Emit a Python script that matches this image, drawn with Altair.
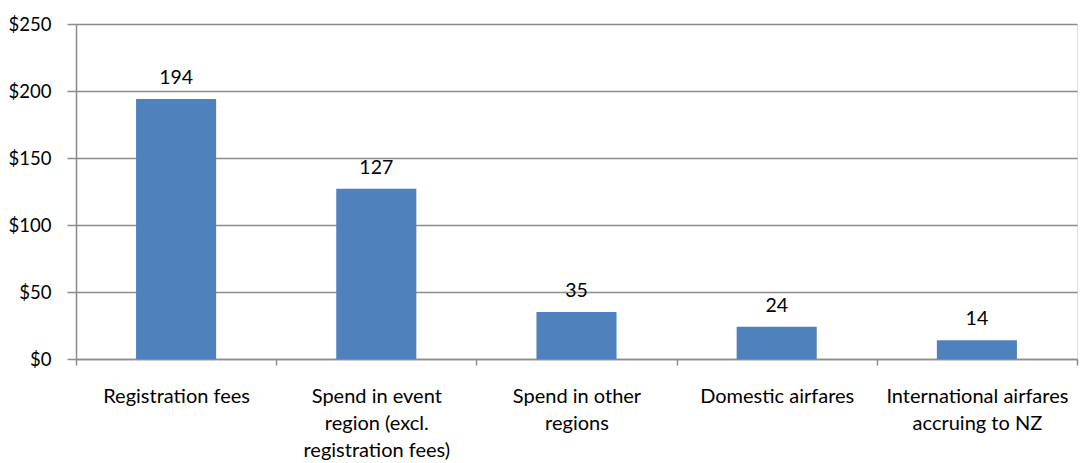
import altair as alt
import pandas as pd

# Average spend per visitor, by spend category
label_lines = [
    ["Registration fees"],
    ["Spend in event", "region (excl.", "registration fees)"],
    ["Spend in other", "regions"],
    ["Domestic airfares"],
    ["International airfares", "accruing to NZ"],
]
values = [194, 127, 35, 24, 14]
y_ticks = [0, 50, 100, 150, 200, 250]

categories = ["\n".join(lines) for lines in label_lines]
df = pd.DataFrame({"category": categories, "value": values})

FONT = "Lato"
GREY = "#8c8c8c"

x = alt.X(
    "category:N",
    sort=categories,
    title=None,
    scale=alt.Scale(paddingInner=0, paddingOuter=0),
    axis=alt.Axis(
        labelAngle=0,
        labelExpr="split(datum.label, '\\n')",
        labelFont=FONT,
        labelFontSize=20,
        labelColor="#000000",
        labelLineHeight=27,
        labelBaseline="top",
        labelPadding=21,
        labelLimit=300,
        tickBand="extent",
        tickSize=6,
        tickColor=GREY,
        tickWidth=1.5,
        domainColor=GREY,
        domainWidth=1.5,
        grid=False,
    ),
)

y = alt.Y(
    "value:Q",
    title=None,
    scale=alt.Scale(domain=[0, 250], nice=False),
    axis=alt.Axis(
        values=y_ticks,
        labelExpr="'$' + datum.value",
        labelFont=FONT,
        labelFontSize=18.5,
        labelColor="#000000",
        labelPadding=16,
        tickSize=9,
        tickColor=GREY,
        tickWidth=1.5,
        domainColor=GREY,
        domainWidth=1.5,
        gridColor=GREY,
        gridWidth=1.5,
    ),
)

bars = alt.Chart(df).mark_bar(
    color="#4F81BD", width=alt.RelativeBandSize(0.4)
).encode(x=x, y=y)

labels = alt.Chart(df).mark_text(
    font=FONT, fontSize=19.5, color="#000000", baseline="bottom", dy=-11
).encode(x=x, y=y, text=alt.Text("value:Q"))

chart = (
    (bars + labels)
    .properties(
        width=1001,
        height=335,
        autosize=alt.AutoSizeParams(type="none"),
        padding={"left": 76, "top": 24, "right": 4, "bottom": 104},
    )
    .configure_view(stroke=None)
    .configure(background="#ffffff")
)

chart.save("out.html", embed_options={"renderer": "svg", "actions": False})
